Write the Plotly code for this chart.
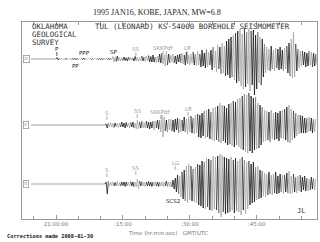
import plotly.graph_objects as go

# ---------------- data ----------------
DT = 0.25            # minutes between samples
LINE_START = -5.6    # minutes (rel. 21:00:00) where the traces begin

channels = ["Iz", "Ir", "It"]
baselines = [59, 125, 184]

z_start = 0.0
z_vals = [
    0, 1.5, -1, 0.5, -0.5, 0.5, -0.5, 0.3, -0.5, 0.5, -0.3, 0.5, -0.5, 0.3, -0.3, 0.5, -0.5, 0.8, -0.6, 0.5,
    -0.5, 0.5, -0.4, 0.6, -0.5, 1, -0.8, 0.5, -0.5, 0.6, -0.4, 0.5, -0.6, 0.4, -0.5, 0.6, -0.5, 0.4, -0.6, 0.5,
    -0.5, 0.6, -0.7, 0.5, -0.6, 0.8, -0.6, 0.7, -0.8, 0.6, -0.7, 2.5, -3, 2, -2.5, 3, -2, 1.5, -2, 1.5,
    -1.5, 2, -1.5, 1.2, -2, 1.5, -1.2, 2, -1.5, 1, -2, 2.5, -1.5, 2, -2.5, 1.5, -2, 3, -2, 2,
    -2.5, 3, -2, 3.5, -3, 2.5, -3, 4, -3, 2, -4, 3, -3, 5, -4, 6, -5, 4, -7, 8,
    -6, 5, -4, 4, -3, 5, -4, 3, -5, 4, -3, 5, -4, 6, -5, 4, -6, 7, -5, 4,
    -6, 5, -4, 7, -6, 5, -7, 8, -6, 5, -8, 9, -7, 6, -9, 10, -8, 7, -6, 9,
    -11, 12, -9, 8, -13, 14, -10, 12, -15, 16, -14, 13, -17, 18, -16, 20, -19, 22, -18, 24,
    -21, 26, -24, 28, -22, 30, -27, 25, -30, 31, -28, 27, -25, 30, -32, 28, -26, 29, -36, 24,
    -30, 27, -24, 22, -26, 20, -18, 15, -14, 12, -11, 10, -12, 13, -10, 9, -12, 11, -9, 10,
    -11, 12, -10, 9, -12, 11, -10, 13, -14, 16, -17, 20, -19, 27, -18, 15, -12, 10, -9, 8,
    -7, 8, -6, 7, -8, 6, -7, 8, -6, 7, -8, 6, -7, 5, -6,
]

r_start = 11.0
r_vals = [
    0, 1, -3, 2, -2, 2.5, -2, 1.5, -2.5, 2, -1.5, 2, -2.5, 2, -2, 3, -2, 2, -3, 2.5,
    -2, 2, -3, 2.5, -2, 3, -3, 2, -4, 5, -4, 3, -3, 4, -3, 2.5, -3, 4, -3, 3,
    -4, 3, -3, 4, -5, 4, -3, 5, -4, 5, -7, 10, -12, 8, -6, 5, -7, 6, -5, 6,
    -6, 5, -7, 6, -5, 7, -8, 6, -7, 5, -6, 8, -7, 6, -9, 8, -7, 9, -8, 7,
    -9, 10, -8, 11, -12, 10, -13, 12, -11, 14, -13, 15, -12, 16, -14, 13, -15, 17, -16, 18,
    -15, 19, -17, 22, -18, 20, -16, 19, -18, 17, -20, 21, -19, 22, -21, 24, -22, 23, -20, 26,
    -22, 27, -24, 29, -25, 31, -27, 30, -28, 32, -26, 29, -28, 27, -25, 28, -24, 22, -23, 20,
    -20, 18, -17, 15, -16, 14, -15, 13, -17, 15, -14, 12, -15, 13, -14, 12, -16, 14, -13, 15,
    -14, 16, -15, 18, -17, 20, -18, 16, -15, 14, -13, 12, -11, 10, -9, 10, -8, 9, -8, 7,
    -8, 7, -7, 8, -6, 7, -8, 6, -7, 6,
]

t_start = 11.0
t_vals = [
    0, 2, -10, 3, -2, 2, -1.5, 2, -2, 1.5, -2, 2.5, -2, 1.5, -2, 2, -1.5, 2, -2.5, 2,
    -2, 1.5, -2, 2.5, -2, 2, -3, 2, -3, 5, -5, 3, -2, 2.5, -2, 2, -2.5, 2, -2, 2.5,
    -2, 2, -2.5, 2, -2, 2.5, -2, 2, -2.5, 2, -2, 2, -2.5, 2, -2, 3, -2.5, 2, -3, 2.5,
    -3, 4, -5, 6, -8, 9, -10, 8, -13, 12, -15, 14, -17, 18, -19, 20, -16, 18, -17, 15,
    -18, 17, -19, 20, -21, 19, -22, 23, -24, 22, -25, 26, -23, 25, -26, 24, -27, 28, -25, 27,
    -26, 28, -29, 30, -33, 29, -28, 27, -30, 26, -29, 25, -28, 27, -26, 24, -29, 26, -27, 23,
    -28, 25, -31, 27, -26, 24, -30, 22, -25, 23, -21, 20, -19, 22, -18, 17, -16, 18, -15, 14,
    -14, 13, -12, 11, -13, 10, -11, 12, -10, 9, -11, 10, -9, 12, -10, 8, -9, 10, -8, 9,
    -10, 9, -8, 11, -9, 13, -10, 8, -9, 10, -8, 7, -9, 8, -7, 9, -8, 7, -6, 8,
    -7, 6, -7, 5, -6, 7, -5, 6, -6, 5,
]

# phase picks: name, time (min after 21:00:00)
z_phase_names = ["P", "PP", "PPP", "SP", "SS", "SKKPdf", "LR"]
z_phase_times = [0.2, 4.3, 6.5, 12.8, 17.9, 24.0, 29.4]
r_phase_names = ["S", "SS", "SKKPdf", "LR"]
r_phase_times = [11.4, 18.2, 23.5, 29.6]
t_phase_names = ["S", "SS", "LG", "SCS2"]
t_phase_times = [11.4, 17.9, 26.7, 26.2]

tick_vals = [0, 15, 30, 45]
tick_text = ["21:00:00", ":15:00", ":30:00", ":45:00"]

# ---------------- styling helpers ----------------
X0_PX, PX_PER_MIN = 56, 4.46
def px2t(x):
    return (x - X0_PX) / PX_PER_MIN

GRAY = "#9a9a9a"
DARK = "#222222"
WAVE_COLORS = ["#1a1a1a", "#a5a5a5"]
CHUNK_PATTERN = [3, 5, 2, 4, 6, 3]   # samples per colour run (alternating black / gray)

# per-phase label style: (dy of text from baseline, tick?, color)
z_style = [(-10, True, DARK), (7, False, DARK), (-6, False, DARK), (-7, False, DARK),
           (-10, True, GRAY), (-11, True, GRAY), (-11, True, GRAY)]
r_style = [(-12, True, GRAY), (-14, True, GRAY), (-13, True, GRAY), (-16, True, GRAY)]
t_style = [(-14, True, GRAY), (-16, True, GRAY), (-21, True, GRAY), (17, False, DARK)]

fig = go.Figure()

series = [(z_start, z_vals), (r_start, r_vals), (t_start, t_vals)]
for (start, vals), base in zip(series, baselines):
    xs = [LINE_START] + [start + i * DT for i in range(len(vals))]
    ys = [base] + [base - v for v in vals]
    # leading quiet segment
    fig.add_trace(go.Scatter(x=xs[:2], y=ys[:2], mode="lines",
                             line=dict(color="#8a8a8a", width=0.8),
                             hoverinfo="skip", showlegend=False))
    i, k = 1, 0
    n = len(xs)
    while i < n - 1:
        j = min(n - 1, i + CHUNK_PATTERN[k % len(CHUNK_PATTERN)])
        fig.add_trace(go.Scatter(x=xs[i:j + 1], y=ys[i:j + 1], mode="lines",
                                 line=dict(color=WAVE_COLORS[k % 2], width=0.8),
                                 hoverinfo="skip", showlegend=False))
        i, k = j, k + 1

annotations = []
shapes = []

for names, times, styles, base in [(z_phase_names, z_phase_times, z_style, baselines[0]),
                                   (r_phase_names, r_phase_times, r_style, baselines[1]),
                                   (t_phase_names, t_phase_times, t_style, baselines[2])]:
    for name, tm, (dy, tick, col) in zip(names, times, styles):
        annotations.append(dict(x=tm, y=base + dy, xref="x", yref="y", text=name,
                                showarrow=False, font=dict(family="DejaVu Sans", size=5.5, color=col)))
        if tick:
            shapes.append(dict(type="line", xref="x", yref="y", x0=tm, x1=tm,
                               y0=base + dy + 3, y1=base + dy + 7,
                               line=dict(color=col, width=0.8)))

for ch, base in zip(channels, baselines):
    annotations.append(dict(x=px2t(26), y=base, xref="x", yref="y", text=ch, showarrow=False,
                            font=dict(family="DejaVu Sans", size=4.5, color="#888"),
                            bordercolor="#999", borderwidth=0.8, borderpad=0.5))

mono = "DejaVu Sans Mono"
for txt, y in [("OKLAHOMA", 26), ("GEOLOGICAL", 34), ("SURVEY", 42)]:
    annotations.append(dict(x=px2t(30), y=y, xref="x", yref="y", text=txt, showarrow=False,
                            xanchor="left", yanchor="middle",
                            font=dict(family=mono, size=7.4, color="#333")))
annotations.append(dict(x=px2t(93), y=26, xref="x", yref="y",
                        text="TUL (LEONARD) KS-54000 BOREHOLE SEISMOMETER", showarrow=False,
                        xanchor="left", yanchor="middle",
                        font=dict(family=mono, size=7.5, color="#333")))
annotations.append(dict(x=px2t(301), y=211, xref="x", yref="y", text="JL", showarrow=False,
                        font=dict(family=mono, size=7, color="#333")))

# outside texts in paper coords (plot area: x 22..317, y 22..219 px)
def pxp(x): return (x - 22) / 295
def pyp(y): return (219 - y) / 197

annotations.append(dict(x=pxp(157), y=pyp(13), xref="paper", yref="paper",
                        xanchor="center", yanchor="middle",
                        text="1995 JAN16, KOBE, JAPAN, MW=6.8", showarrow=False,
                        font=dict(family="Liberation Serif", size=8, color="#222")))
annotations.append(dict(x=pxp(168), y=pyp(233), xref="paper", yref="paper",
                        xanchor="center", yanchor="middle",
                        text="Time (hr:min:sec)\u00a0\u00a0\u00a0GMT/UTC", showarrow=False,
                        font=dict(family="DejaVu Sans", size=5.5, color="#777")))
annotations.append(dict(x=pxp(5), y=pyp(236), xref="paper", yref="paper",
                        xanchor="left", yanchor="middle",
                        text="<b>Corrections made 2008-01-30</b>", showarrow=False,
                        font=dict(family=mono, size=5.3, color="#222")))

fig.update_layout(
    width=320, height=242,
    margin=dict(l=22, r=3, t=22, b=23),
    paper_bgcolor="white", plot_bgcolor="white",
    annotations=annotations, shapes=shapes,
    xaxis=dict(range=[px2t(22), px2t(317)], tickvals=tick_vals, ticktext=tick_text,
               ticks="inside", ticklen=4, tickcolor="#999", showgrid=False, zeroline=False,
               showline=True, linecolor="#999", linewidth=1, mirror="ticks",
               minor=dict(dtick=5, ticks="inside", ticklen=3, tickcolor="#999"),
               ticklabelstandoff=-1,
               tickfont=dict(family="DejaVu Sans", size=5.5, color="#777")),
    yaxis=dict(range=[219, 22], showticklabels=False, ticks="", showgrid=False, zeroline=False,
               showline=True, linecolor="#999", linewidth=1, mirror=True),
)

fig.write_html("out.html")
